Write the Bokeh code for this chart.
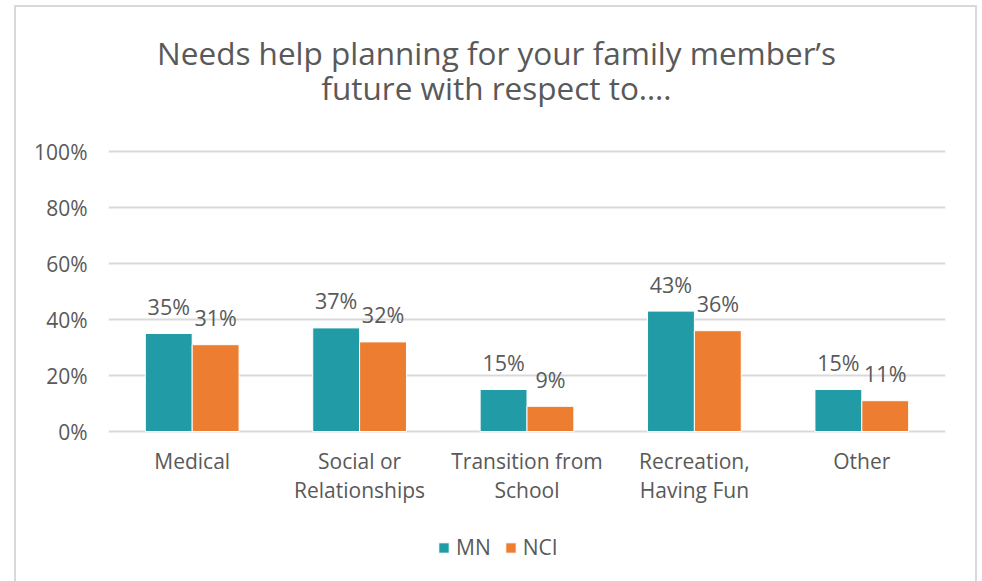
from bokeh.plotting import figure
from bokeh.models import (ColumnDataSource, FactorRange, Legend, LegendItem, Label,
                          NumeralTickFormatter, FixedTicker, Range1d)
from bokeh.transform import dodge
from bokeh.core.properties import value
from bokeh.embed import file_html
from bokeh.resources import INLINE

categories = ["Medical", "Social or\nRelationships", "Transition from\nSchool",
              "Recreation,\nHaving Fun", "Other"]
mn_values = [0.35, 0.37, 0.15, 0.43, 0.15]
nci_values = [0.31, 0.32, 0.09, 0.36, 0.11]
series_names = ["MN", "NCI"]
y_ticks = [0, 0.2, 0.4, 0.6, 0.8, 1.0]
title_lines = ["Needs help planning for your family member\u2019s",
               "future with respect to\u2026."]

TEAL = "#219ca6"
ORANGE = "#ed7d31"
GRAY_TEXT = "#595959"
GRID = "#d9d9d9"
FONT = "Open Sans"

source = ColumnDataSource(dict(
    cat=categories,
    mn=mn_values,
    nci=nci_values,
    mn_lbl=[f"{round(v*100)}%" for v in mn_values],
    nci_lbl=[f"{round(v*100)}%" for v in nci_values],
))

W, H = 959, 574
PX = 280.0          # pixels per 100 %
ZERO_FROM_TOP = 424  # pixel row of 0 % inside the canvas

p = figure(x_range=FactorRange(*categories, range_padding=0),
           y_range=Range1d(-(H - ZERO_FROM_TOP) / PX, ZERO_FROM_TOP / PX),
           width=W, height=H, output_backend="svg", toolbar_location=None,
           min_border_left=92, min_border_right=30, min_border_top=0,
           min_border_bottom=0, margin=(7, 0, 0, 16),
           styles={"outline": f"2px solid {GRID}"})
p.outline_line_color = None
p.background_fill_color = "white"
p.border_fill_color = "white"

bw = 0.28
r1 = p.vbar(x=dodge("cat", -bw / 2, range=p.x_range), top="mn", width=bw, source=source,
            fill_color=TEAL, line_color="white", line_width=1)
r2 = p.vbar(x=dodge("cat", bw / 2, range=p.x_range), top="nci", width=bw, source=source,
            fill_color=ORANGE, line_color="white", line_width=1)

for col_name, lbl, off in (("mn", "mn_lbl", -bw / 2), ("nci", "nci_lbl", bw / 2)):
    p.text(x=dodge("cat", off, range=p.x_range), y=col_name, text=lbl, source=source,
           text_align="center", text_baseline="alphabetic", y_offset=-27,
           text_font=value(FONT), text_font_size="21.5px", text_color=GRAY_TEXT)

# axes
p.yaxis.ticker = FixedTicker(ticks=y_ticks)
p.yaxis.formatter = NumeralTickFormatter(format="0%")
p.yaxis.axis_line_color = None
p.yaxis.major_tick_line_color = None
p.yaxis.minor_tick_line_color = None
p.yaxis.major_tick_out = 0
p.yaxis.major_tick_in = 0
p.yaxis.major_label_standoff = 21
p.yaxis.major_label_text_font = FONT
p.yaxis.major_label_text_font_size = "21px"
p.yaxis.major_label_text_color = GRAY_TEXT

p.xaxis.fixed_location = 0
p.xaxis.axis_line_color = None
p.xaxis.major_tick_line_color = None
p.xaxis.minor_tick_line_color = None
p.xaxis.major_tick_out = 0
p.xaxis.major_tick_in = 0
p.xaxis.major_label_standoff = 15
p.xaxis.major_label_text_font = FONT
p.xaxis.major_label_text_font_size = "21px"
p.xaxis.major_label_text_color = GRAY_TEXT
p.xaxis.major_label_text_line_height = 1.05

p.xgrid.grid_line_color = None
p.ygrid.grid_line_color = GRID
p.ygrid.grid_line_width = 2
p.ygrid.ticker = FixedTicker(ticks=y_ticks)

# title (two centred lines over the whole chart)
for txt, base in ((title_lines[0], 44.5), (title_lines[1], 80)):
    p.add_layout(Label(x=480, y=base, x_units="canvas", y_units="canvas", text=txt,
                       text_align="center", text_baseline="alphabetic", text_font=FONT,
                       text_font_size="31.5px", text_color=GRAY_TEXT))

legend = Legend(items=[LegendItem(label=series_names[0], renderers=[r1]),
                       LegendItem(label=series_names[1], renderers=[r2])],
                orientation="horizontal", location=(329, 20),
                label_text_font=FONT, label_text_font_size="21px",
                label_text_color=GRAY_TEXT, glyph_width=13, glyph_height=13,
                spacing=13, label_standoff=6, border_line_color=None,
                background_fill_alpha=0, padding=4, margin=0)
p.add_layout(legend, "center")

open("out.html", "w").write(file_html(p, INLINE))
